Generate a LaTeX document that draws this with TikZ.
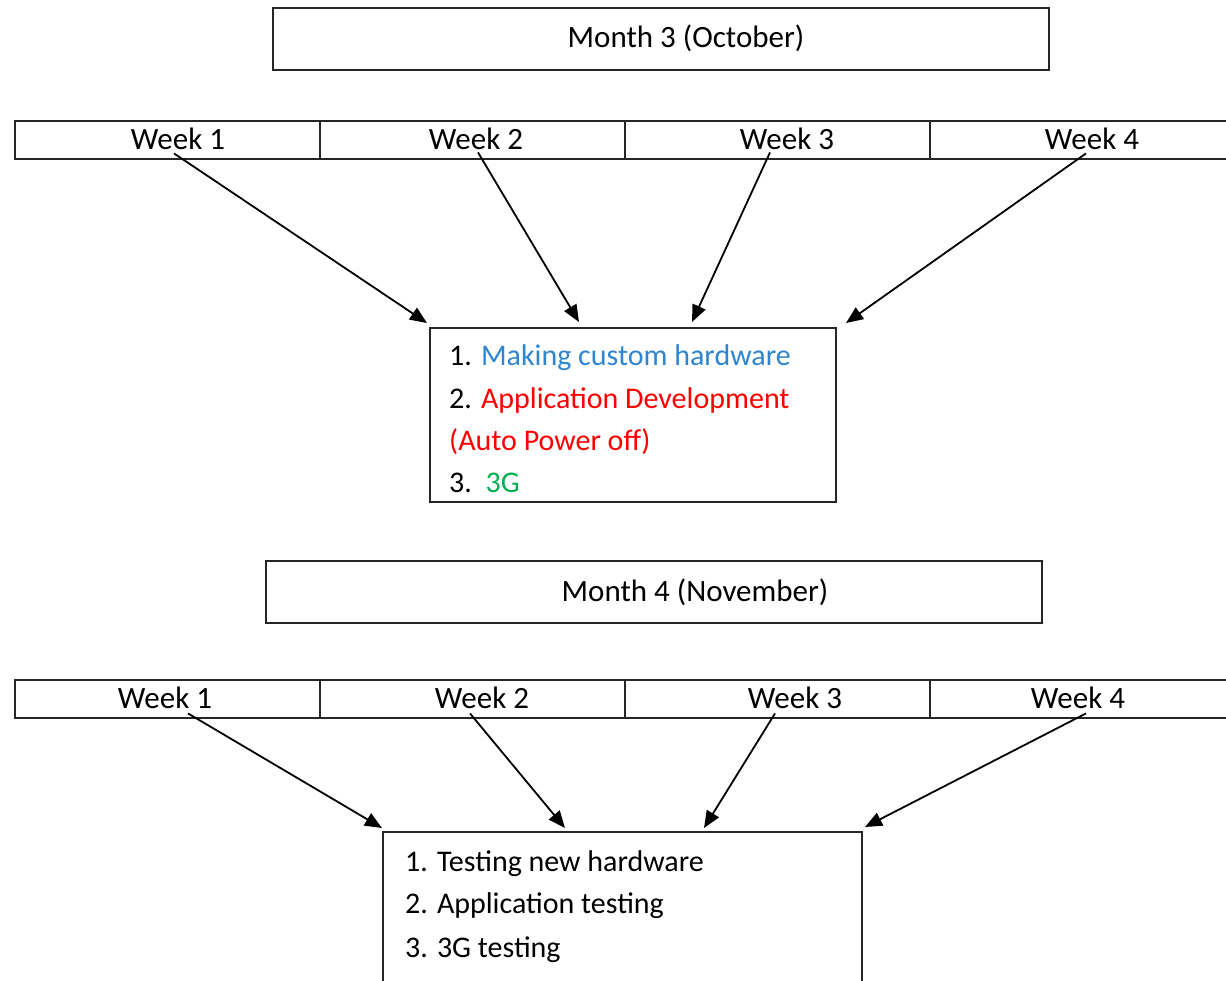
\documentclass[tikz,border=0pt]{standalone}
\usepackage{fontspec}
\setmainfont{Carlito}
\usetikzlibrary{arrows.meta}
\definecolor{hwblue}{RGB}{46,134,208}
\definecolor{devred}{RGB}{255,0,0}
\definecolor{netgreen}{RGB}{0,176,80}
\begin{document}
\begin{tikzpicture}[x=1pt,y=-1pt,
  box/.style={draw=black!85, line width=2pt, inner sep=0pt},
  lbl/.style={font=\fontsize{31}{36}\selectfont, inner sep=0pt, anchor=base},
  item/.style={font=\fontsize{30}{36}\selectfont, inner sep=0pt, anchor=base west},
  link/.style={line width=1.8pt, -{Triangle[length=17pt,width=14pt]}}
]
\useasboundingbox (0,0) rectangle (1226,980);
\fill[white] (0,0) rectangle (1226,980);

% ---------------- Month 3 ----------------
\node[box, minimum width=776pt, minimum height=62pt] (m3) at (661,39) {};
\node[lbl] (m3t) at (686,47) {Month 3 (October)};

\node[box, minimum width=305pt, minimum height=38pt] (a1) at (167.5,140) {};
\node[box, minimum width=305pt, minimum height=38pt] (a2) at (472.5,140) {};
\node[box, minimum width=305pt, minimum height=38pt] (a3) at (777.5,140) {};
\node[box, minimum width=305pt, minimum height=38pt] (a4) at (1082.5,140) {};
\node[lbl] (aw1) at (178,149) {Week 1};
\node[lbl] (aw2) at (476,149) {Week 2};
\node[lbl] (aw3) at (787,149) {Week 3};
\node[lbl] (aw4) at (1092,149) {Week 4};

\node[box, minimum width=406pt, minimum height=174pt] (t1) at (633,415) {};
\node[item] (t1a) at (449,365) {1. \textcolor{hwblue}{Making custom hardware}};
\node[item] (t1b) at (449,408) {2. \textcolor{devred}{Application Development}};
\node[item, text=devred] (t1c) at (449,450) {(Auto Power off)};
\node[item] (t1d) at (449,492) {3.\ \ \textcolor{netgreen}{3G}};

\draw[link] ([xshift=-4pt,yshift=-4pt]aw1.south) -- ([xshift=-2pt,yshift=4pt]t1.north west);
\draw[link] ([xshift=2pt,yshift=-3pt]aw2.south) -- ([xshift=150pt,yshift=5pt]t1.north west);
\draw[link] ([xshift=-17pt,yshift=-3pt]aw3.south) -- ([xshift=263pt,yshift=5pt]t1.north west);
\draw[link] ([xshift=-6pt,yshift=-4pt]aw4.south) -- ([xshift=9pt,yshift=4pt]t1.north east);

% ---------------- Month 4 ----------------
\node[box, minimum width=776pt, minimum height=62pt] (m4) at (654,592) {};
\node[lbl] (m4t) at (695,601) {Month 4 (November)};

\node[box, minimum width=305pt, minimum height=38pt] (b1) at (167.5,699) {};
\node[box, minimum width=305pt, minimum height=38pt] (b2) at (472.5,699) {};
\node[box, minimum width=305pt, minimum height=38pt] (b3) at (777.5,699) {};
\node[box, minimum width=305pt, minimum height=38pt] (b4) at (1082.5,699) {};
\node[lbl] (bw1) at (165,708) {Week 1};
\node[lbl] (bw2) at (482,708) {Week 2};
\node[lbl] (bw3) at (795,708) {Week 3};
\node[lbl] (bw4) at (1078,708) {Week 4};

\node[box, minimum width=479pt, minimum height=170pt] (t2) at (622.5,917) {};
\node[item] (t2a) at (405,871) {1. Testing new hardware};
\node[item] (t2b) at (405,913) {2. Application testing};
\node[item] (t2c) at (405,957) {3. 3G testing};

\draw[link] ([xshift=23pt,yshift=-5pt]bw1.south) -- ([xshift=0pt,yshift=3pt]t2.north west);
\draw[link] ([xshift=-12pt,yshift=-5pt]bw2.south) -- ([xshift=183pt,yshift=3pt]t2.north west);
\draw[link] ([xshift=-20pt,yshift=-5pt]bw3.south) -- ([xshift=322pt,yshift=3pt]t2.north west);
\draw[link] ([xshift=8pt,yshift=-5pt]bw4.south) -- ([xshift=2pt,yshift=4pt]t2.north east);
\end{tikzpicture}
\end{document}
